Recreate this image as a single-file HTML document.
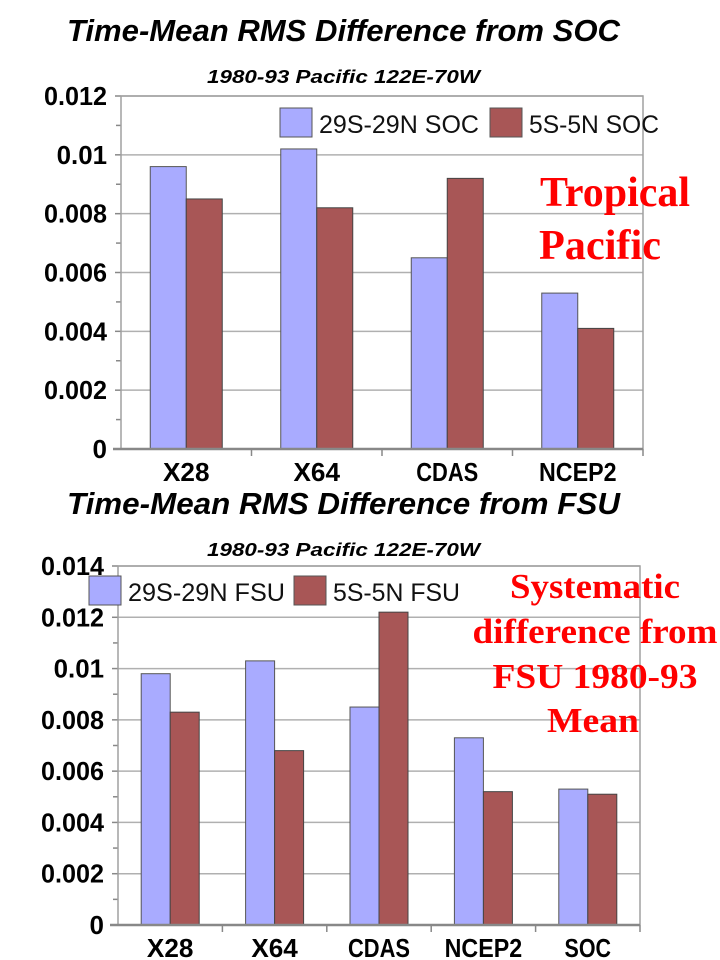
<!DOCTYPE html>
<html><head><meta charset="utf-8"><style>
html,body{margin:0;padding:0;background:#fff;}
svg{display:block;font-family:"Liberation Sans",Arial,sans-serif;}
</style></head><body>
<svg id="svg" width="720" height="960" viewBox="0 0 720 960" xmlns="http://www.w3.org/2000/svg">
<text x="67" y="41" font-size="31" font-weight="bold" font-style="italic" textLength="553" lengthAdjust="spacingAndGlyphs">Time-Mean RMS Difference from SOC</text>
<text x="207" y="83" font-size="18" font-weight="bold" font-style="italic" textLength="273" lengthAdjust="spacingAndGlyphs">1980-93 Pacific 122E-70W</text>
<text x="67" y="514" font-size="31" font-weight="bold" font-style="italic" textLength="553" lengthAdjust="spacingAndGlyphs">Time-Mean RMS Difference from FSU</text>
<text x="207" y="556" font-size="18" font-weight="bold" font-style="italic" textLength="273" lengthAdjust="spacingAndGlyphs">1980-93 Pacific 122E-70W</text>
<g id="top"></g>
<g id="bot"></g>
<g font-family="'Liberation Serif',serif" font-weight="bold" fill="#ff0000" text-anchor="middle">
<text x="615" y="206" font-size="42" textLength="150" lengthAdjust="spacingAndGlyphs">Tropical</text>
<text x="600" y="259" font-size="42" textLength="122" lengthAdjust="spacingAndGlyphs">Pacific</text>
<text x="595" y="598" font-size="35" textLength="170" lengthAdjust="spacingAndGlyphs">Systematic</text>
<text x="595" y="643" font-size="35" textLength="245" lengthAdjust="spacingAndGlyphs">difference from</text>
<text x="595" y="688" font-size="35" textLength="205" lengthAdjust="spacingAndGlyphs">FSU 1980-93</text>
<text x="593" y="732" font-size="35" textLength="92" lengthAdjust="spacingAndGlyphs">Mean</text>
</g>
</svg>
<script>
const NS="http://www.w3.org/2000/svg";
const topCats=["X28","X64","CDAS","NCEP2"];
const topBlue=[0.0096,0.0102,0.0065,0.0053];
const topRed=[0.0085,0.0082,0.0092,0.0041];
const topTicks=["0","0.002","0.004","0.006","0.008","0.01","0.012"];
const topLegend=["29S-29N SOC","5S-5N SOC"];
const botCats=["X28","X64","CDAS","NCEP2","SOC"];
const botBlue=[0.0098,0.0103,0.0085,0.0073,0.0053];
const botRed=[0.0083,0.0068,0.0122,0.0052,0.0051];
const botTicks=["0","0.002","0.004","0.006","0.008","0.01","0.012","0.014"];
const botLegend=["29S-29N FSU","5S-5N FSU"];

function mk(parent,tag,attrs,text){const e=document.createElementNS(NS,tag);for(const k in attrs)e.setAttribute(k,attrs[k]);if(text!==undefined)e.textContent=text;parent.appendChild(e);return e;}

function chart(g,prefix,cats,blue,red,ticks,legend,L,R,T,B,bw,leg){
  const max=parseFloat(ticks[ticks.length-1]);
  const y=v=>B-(v/max)*(B-T);
  const cw=(R-L)/cats.length;
  const xc=i=>L+cw*(i+0.5);
  ticks.forEach((t,i)=>{const v=parseFloat(t);
    if(v>0){const l=mk(g,'line',{x1:L,x2:R,y1:y(v),y2:y(v),stroke:'#b0b0b0','stroke-width':1.5});
    
    }
    const tl=mk(g,'line',{x1:L-6,x2:L,y1:y(v),y2:y(v),stroke:'#888','stroke-width':1.5});
    
    
    if(i<ticks.length-1){const mv=v+(max/(ticks.length-1))/2;
      const m=mk(g,'line',{x1:L-5,x2:L,y1:y(mv),y2:y(mv),stroke:'#888','stroke-width':1.5});
      
      }
    const attrs={x:L-14,y:y(v)+9,'font-size':26,'font-weight':'bold','text-anchor':'end'};
    if(t.length>1){attrs.textLength=t.length*12.6;attrs.lengthAdjust='spacingAndGlyphs';}
    const lb=mk(g,'text',attrs,t);
    
    
  });
  const fr=mk(g,'path',{d:`M${L},${B}V${T}H${R}V${B}`,fill:'none',stroke:'#a0a0a0','stroke-width':1.5});
  
  
  cats.forEach((c,i)=>{
    const b=mk(g,'rect',{x:xc(i)-bw,y:y(blue[i]),width:bw,height:B-y(blue[i]),fill:'#a9abff',stroke:'#555','stroke-width':1});
    
    
    const r=mk(g,'rect',{x:xc(i),y:y(red[i]),width:bw,height:B-y(red[i]),fill:'#a85656',stroke:'#444','stroke-width':1});
    
    
    const t=mk(g,'text',{x:xc(i),y:B+32,'font-size':26,'font-weight':'bold','text-anchor':'middle',textLength:c.length*15.5,lengthAdjust:'spacingAndGlyphs'},c);
    
    
    const tk=mk(g,'line',{x1:L+cw*(i+1),x2:L+cw*(i+1),y1:B,y2:B+7,stroke:'#888','stroke-width':1.5});
    
    
  });
  const ax=mk(g,'line',{x1:L-8,x2:R,y1:B,y2:B,stroke:'#888','stroke-width':2.5});
  
  
  const cols=['#a9abff','#a85656'];
  legend.forEach((s,i)=>{
    const sw=mk(g,'rect',{x:leg[i][0],y:leg[2],width:32,height:29,fill:cols[i],stroke:'#555','stroke-width':1});
    
    
    const lt=mk(g,'text',{x:leg[i][0]+39,y:leg[2]+25,'font-size':25,fill:'#111',textLength:leg[i][1],lengthAdjust:'spacingAndGlyphs'},s);
    
    
  });
}
chart(document.getElementById('top'),'top',topCats,topBlue,topRed,topTicks,topLegend,121,643,96,449,36,[[280,160],[490,130],108]);
chart(document.getElementById('bot'),'bottom',botCats,botBlue,botRed,botTicks,botLegend,118,640,566,925,29,[[89,157],[294,127],576]);
</script>
</body></html>
